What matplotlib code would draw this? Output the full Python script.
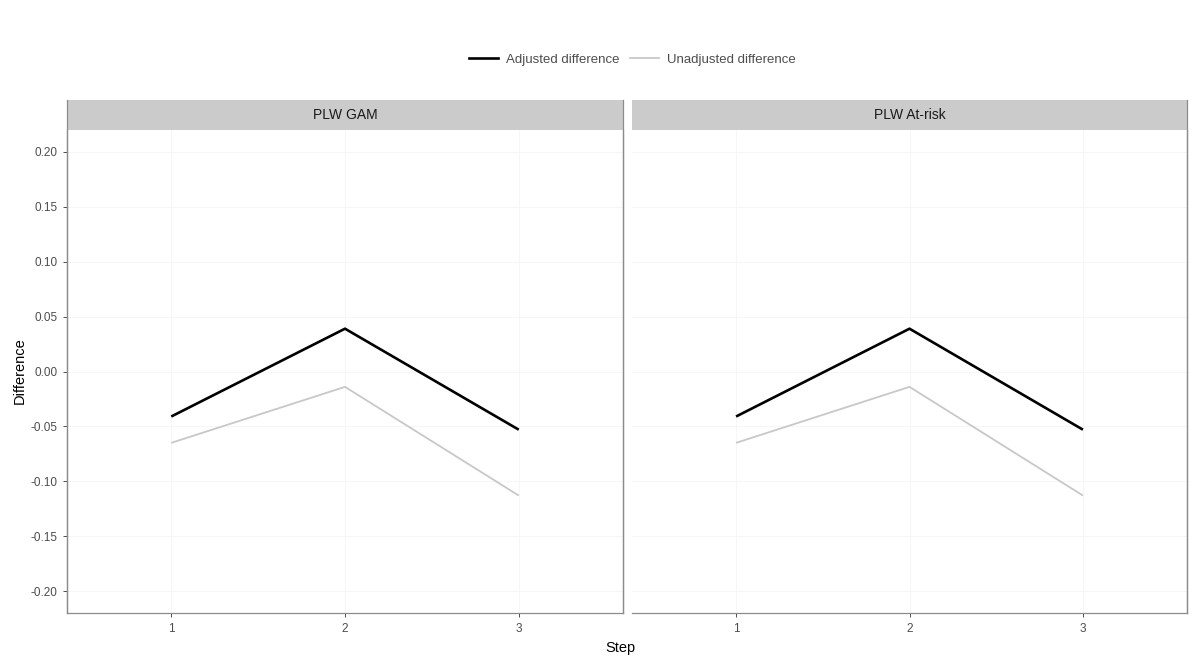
import matplotlib
matplotlib.use("Agg")
import matplotlib.pyplot as plt
from matplotlib.lines import Line2D

plt.rcParams['font.family'] = ['Liberation Sans', 'DejaVu Sans']

steps = [1, 2, 3]
panels = ["PLW GAM", "PLW At-risk"]
adjusted = {"PLW GAM": [-0.041, 0.039, -0.053],
            "PLW At-risk": [-0.041, 0.039, -0.053]}
unadjusted = {"PLW GAM": [-0.065, -0.014, -0.113],
              "PLW At-risk": [-0.065, -0.014, -0.113]}
yticks = [-0.20, -0.15, -0.10, -0.05, 0.00, 0.05, 0.10, 0.15, 0.20]
ytick_labels = ["-0.20", "-0.15", "-0.10", "-0.05", "0.00", "0.05", "0.10", "0.15", "0.20"]

W, H = 1192, 659
fig = plt.figure(figsize=(W / 100, H / 100), dpi=100)

def fx(px):
    return px / W

def fy(py):
    return 1 - py / H

panel_px = [(67, 623), (632, 1187)]
top_px, bot_px, strip_top = 130, 613, 100
edge_col = '#8c8c8c'
txt_col = '#4d4d4d'

for i, (name, (x0, x1)) in enumerate(zip(panels, panel_px)):
    ax = fig.add_axes([fx(x0), fy(bot_px), fx(x1 - x0), (bot_px - top_px) / H])
    ax.set_xlim(0.4, 3.6)
    ax.set_ylim(-0.22, 0.22)
    ax.grid(True, color='#f5f5f5', lw=0.6)
    ax.set_axisbelow(True)
    ax.plot(steps, unadjusted[name], color='#c8c8c8', lw=1.3, solid_capstyle='butt', zorder=3)
    ax.plot(steps, adjusted[name], color='black', lw=1.9, solid_capstyle='butt', zorder=4)
    ax.set_xticks(steps)
    ax.set_xticklabels([str(s) for s in steps])
    ax.set_yticks(yticks)
    ax.tick_params(colors='#333333', labelcolor=txt_col, labelsize=8.5, length=3, width=0.6, pad=4)
    for s in ax.spines.values():
        s.set_color(edge_col)
        s.set_linewidth(0.9)
    ax.spines['top'].set_visible(False)
    if i == 0:
        ax.set_yticklabels(ytick_labels)
        ax.spines['right'].set_visible(True)
    else:
        ax.spines['left'].set_visible(False)
        ax.tick_params(axis='y', left=False, labelleft=False)
    # strip
    sax = fig.add_axes([fx(x0), fy(top_px), fx(x1 - x0), (top_px - strip_top) / H])
    sax.set_facecolor('#cbcbcb')
    sax.set_xticks([])
    sax.set_yticks([])
    for s in sax.spines.values():
        s.set_visible(False)
    sax.text(0.5, 0.5, name, ha='center', va='center', fontsize=10, color='#1a1a1a',
             transform=sax.transAxes)

# vertical border lines extending through strips
for xp in (67, 623, 1187):
    fig.add_artist(Line2D([fx(xp), fx(xp)], [fy(bot_px), fy(strip_top)], color=edge_col, lw=0.9))

fig.text(fx(20), fy(371), "Difference", rotation=90, ha='center', va='center', fontsize=10.5, color='black')
fig.text(fx(620), fy(648), "Step", ha='center', va='center', fontsize=10.5, color='black')

handles = [Line2D([], [], color='black', lw=1.9), Line2D([], [], color='#c8c8c8', lw=1.3)]
fig.legend(handles, ["Adjusted difference", "Unadjusted difference"], loc='center',
           bbox_to_anchor=(fx(632), fy(60)), ncol=2, frameon=False, fontsize=9.5,
           handlelength=2.2, columnspacing=0.8, handletextpad=0.6, labelcolor=txt_col)

fig.savefig("out.png", dpi=100, facecolor='white')
